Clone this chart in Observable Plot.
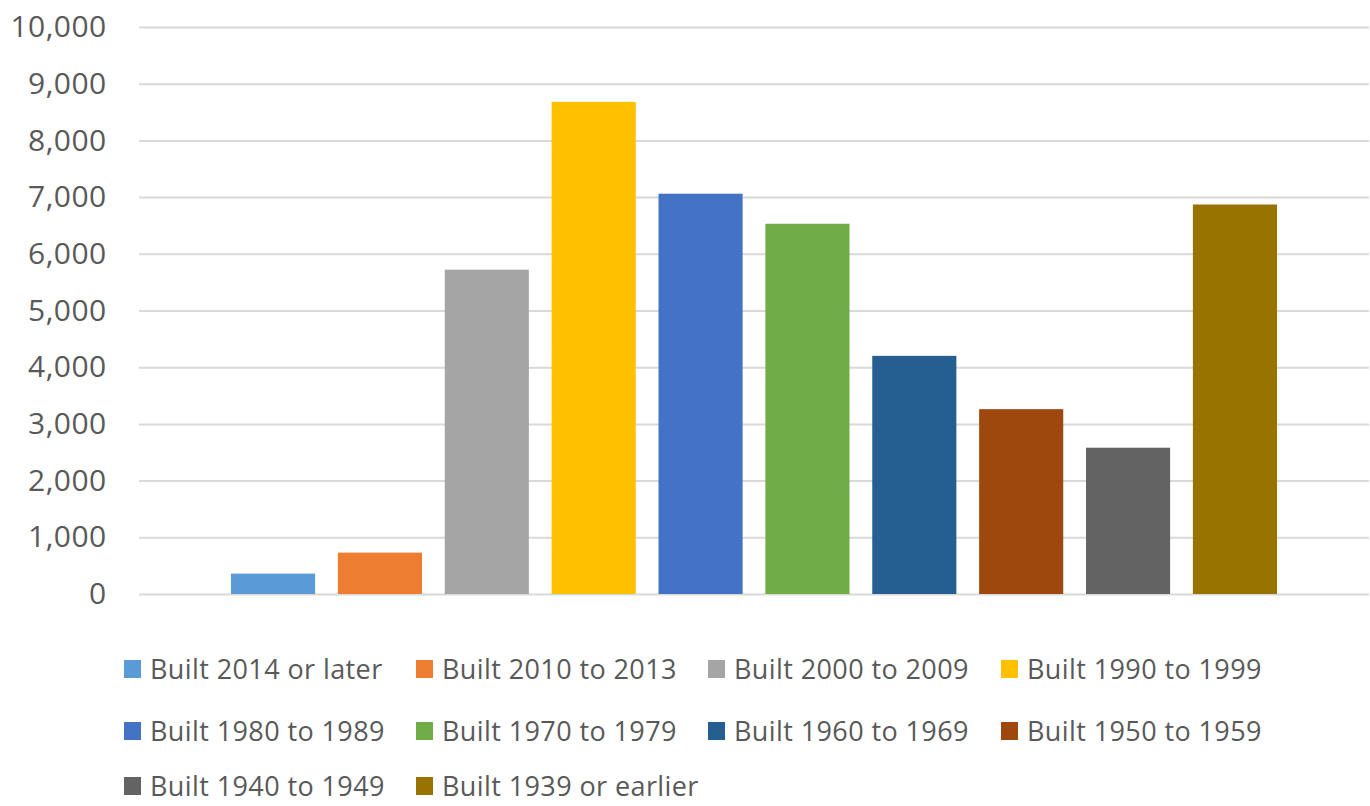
<!DOCTYPE html>
<html>
<head>
<meta charset="utf-8">
<script src="https://cdn.jsdelivr.net/npm/d3@7"></script>
<script src="https://cdn.jsdelivr.net/npm/@observablehq/plot@0.6"></script>
<style>
  html, body { margin: 0; padding: 0; background: #fff; overflow: hidden; }
  #chart svg { display: block; }
  #legend { position: relative; width: 1370px; height: 186px; font-family: "Open Sans", sans-serif; font-size: 27px; letter-spacing: 0.4px; color: #595959; }
  .item { position: absolute; display: flex; align-items: center; height: 22px; line-height: 22px; white-space: nowrap; }
  .sw { width: 17px; height: 18px; margin-right: 9px; flex: none; }
</style>
</head>
<body>
<div id="chart"></div>
<div id="legend"></div>
<script>
const categories = [
  "Built 2014 or later", "Built 2010 to 2013", "Built 2000 to 2009", "Built 1990 to 1999",
  "Built 1980 to 1989", "Built 1970 to 1979", "Built 1960 to 1969", "Built 1950 to 1959",
  "Built 1940 to 1949", "Built 1939 or earlier"
];
const values = [360, 730, 5720, 8680, 7060, 6530, 4200, 3260, 2580, 6870];
const colors = ["#5B9BD5", "#ED7D31", "#A5A5A5", "#FFC000", "#4472C4", "#70AD47", "#255E91", "#9E480E", "#636363", "#997300"];
const yTicks = [0, 1000, 2000, 3000, 4000, 5000, 6000, 7000, 8000, 9000, 10000];

const data = categories.map((c, i) => ({category: c, value: values[i]}));

const chart = Plot.plot({
  width: 1370,
  height: 620,
  marginLeft: 139,
  marginRight: 1,
  marginTop: 27,
  marginBottom: 26,
  style: {fontFamily: "'Open Sans', sans-serif", fontSize: "30px", color: "#595959", background: "#fff", letterSpacing: "0.4px"},
  x: {domain: categories, range: [231, 1277], paddingInner: 0.213, paddingOuter: 0, round: false, axis: null},
  y: {domain: [0, 10000], ticks: yTicks, tickFormat: d3.format(","), tickSize: 0, tickPadding: 33, label: null},
  color: {domain: categories, range: colors},
  marks: [
    Plot.ruleY(yTicks, {stroke: "#d9d9d9", strokeWidth: 2}),
    Plot.barY(data, {x: "category", y: "value", fill: "category"})
  ]
});
document.getElementById("chart").appendChild(chart);

const legend = document.getElementById("legend");
const colX = [124, 416, 708, 1001];
const rowY = [668.5, 730.5, 786];
categories.forEach((c, i) => {
  const col = i % 4, row = Math.floor(i / 4);
  const item = document.createElement("div");
  item.className = "item";
  item.style.left = colX[col] + "px";
  item.style.top = (rowY[row] - 620 - 11) + "px";
  const sw = document.createElement("span");
  sw.className = "sw";
  sw.style.background = colors[i];
  const t = document.createElement("span");
  t.textContent = c;
  item.appendChild(sw);
  item.appendChild(t);
  legend.appendChild(item);
});
</script>
</body>
</html>
